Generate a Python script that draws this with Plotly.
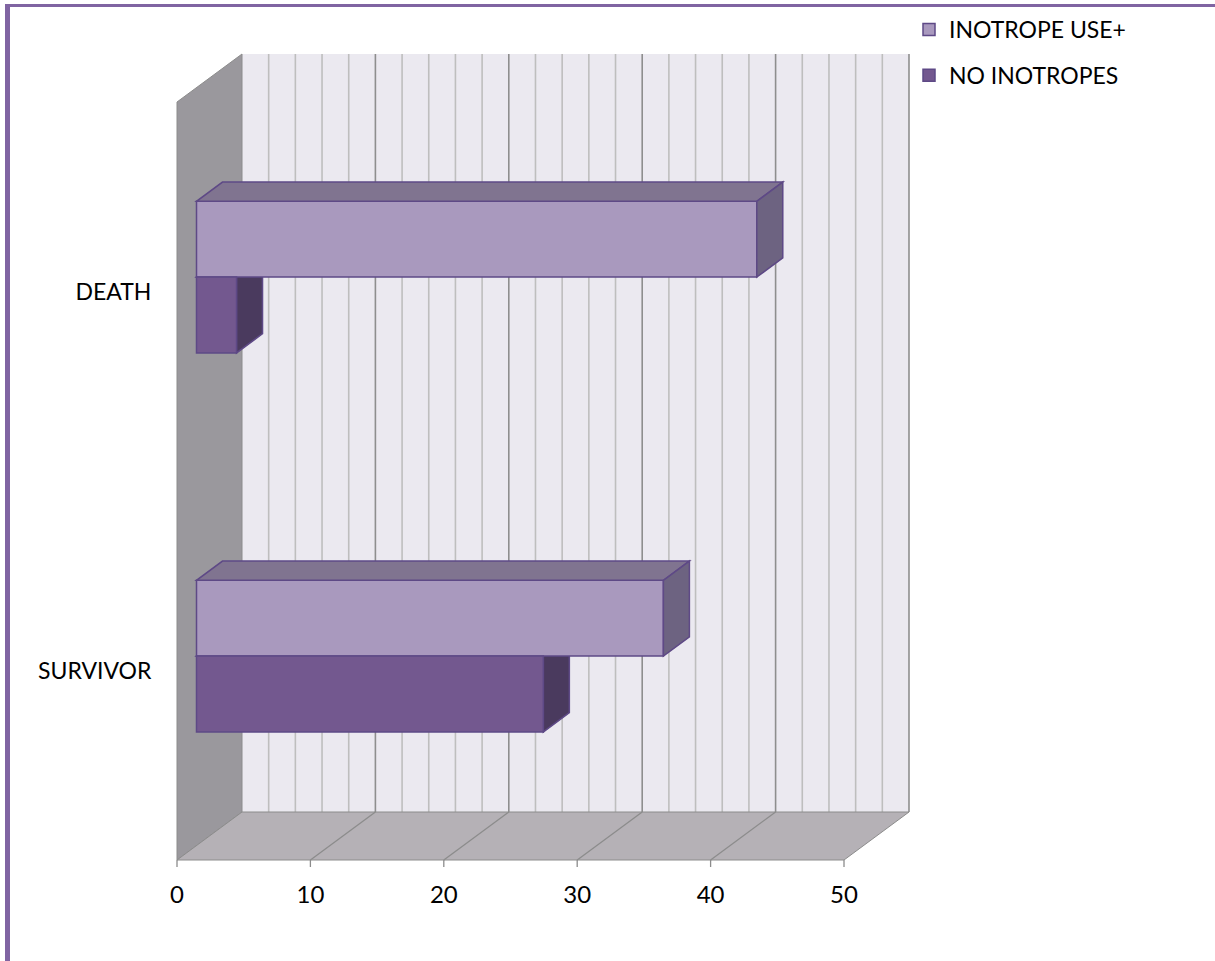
import plotly.graph_objects as go

# ---------------- data ----------------
categories = ["DEATH", "SURVIVOR"]
series_names = ["INOTROPE USE+", "NO INOTROPES"]
inotrope_use = [42, 35]
no_inotropes = [3, 26]
x_ticks = [0, 10, 20, 30, 40, 50]
x_axis_max = 50
minor_step = 2

# ---------------- styling / geometry ----------------
W, H = 1215, 961
PX_PER_UNIT = 13.34      # horizontal pixels per value unit
PX_PER_CAT = 379         # vertical pixels per category band
ML, MR, MT, MB = 167, 290, 44, 90
ORIGIN_PX = (177, 860)   # pixel of value 0 / floor front
PLOT_W = W - ML - MR
PLOT_H = H - MT - MB

x0 = -(ORIGIN_PX[0] - ML) / PX_PER_UNIT
x1 = x0 + PLOT_W / PX_PER_UNIT
y_bottom_px = H - MB
y0 = -(y_bottom_px - ORIGIN_PX[1]) / PX_PER_CAT
y1 = y0 + PLOT_H / PX_PER_CAT

DEPTH_DX = 65 / PX_PER_UNIT       # full depth, in value units
DEPTH_DY = 48 / PX_PER_CAT        # full depth, in category units
GAP_WIDTH = 1.5
GAP_DEPTH = 1.5
bar_w = 1.0 / (1 + GAP_WIDTH) / len(series_names)
bar_depth = 1.0 / (1 + GAP_DEPTH)
f_front = (1 - bar_depth) / 2
f_back = f_front + bar_depth

n_cat = len(categories)
cat_centers = [n_cat - i - 0.5 for i in range(n_cat)]

FRONT_COLORS = ["#A999BE", "#73588F"]
TOP_COLORS = ["#807490", "#5B4A72"]
SIDE_COLORS = ["#6D6381", "#4A3A5E"]
EDGE_COLOR = "#5E4986"
WALL_BACK = "#EBE9F0"
WALL_LEFT = "#9A989D"
FLOOR = "#B5B1B6"
GRID_MINOR = "#BEBEBE"
GRID_MAJOR = "#8E8E8E"
EDGE_GRAY = "#8C8C8C"
FONT = "Lato"


def proj(v, c, f):
    return v + f * DEPTH_DX, c + f * DEPTH_DY


def poly(points):
    pts = [proj(*p) for p in points]
    return "M " + " L ".join(f"{x:.5f},{y:.5f}" for x, y in pts) + " Z"


shapes = []


def add_poly(points, fill, line_color=None, line_width=0, layer="below"):
    shapes.append(dict(
        type="path", xref="x", yref="y", path=poly(points),
        fillcolor=fill, layer=layer,
        line=dict(color=line_color or fill, width=line_width),
    ))


def add_line(p, q, color, width, layer="below"):
    (xa, ya), (xb, yb) = proj(*p), proj(*q)
    shapes.append(dict(type="line", xref="x", yref="y", x0=xa, y0=ya, x1=xb, y1=yb,
                       line=dict(color=color, width=width), layer=layer))


top_c = float(n_cat)
# back wall
add_poly([(0, 0, 1), (x_axis_max, 0, 1), (x_axis_max, top_c, 1), (0, top_c, 1)], WALL_BACK)
# back wall gridlines
v = minor_step
while v < x_axis_max:
    if v not in x_ticks:
        add_line((v, 0, 1), (v, top_c, 1), GRID_MINOR, 1.6)
    v += minor_step
for t in x_ticks[1:]:
    add_line((t, 0, 1), (t, top_c, 1), GRID_MAJOR, 1.6)
# left wall
add_poly([(0, 0, 0), (0, 0, 1), (0, top_c, 1), (0, top_c, 0)], WALL_LEFT, EDGE_GRAY, 1)
# floor
add_poly([(0, 0, 0), (x_axis_max, 0, 0), (x_axis_max, 0, 1), (0, 0, 1)], FLOOR, EDGE_GRAY, 1)
for t in x_ticks[1:-1]:
    add_line((t, 0, 0), (t, 0, 1), EDGE_GRAY, 1.3)
# tick marks under the floor front edge
tick_len = 7 / PX_PER_CAT
for t in x_ticks:
    shapes.append(dict(type="line", xref="x", yref="y", x0=t, x1=t, y0=0, y1=-tick_len,
                       line=dict(color=EDGE_GRAY, width=1.3), layer="below"))

series_values = [inotrope_use, no_inotropes]
fig = go.Figure()

for s, (name, vals) in enumerate(zip(series_names, series_values)):
    offset = bar_w / 2 if s == 0 else -bar_w / 2
    centers = [c + offset for c in cat_centers]
    # 3D faces (top + right side)
    layer = "above" if s == 0 else "below"
    for c, val in zip(centers, vals):
        ct, cb = c + bar_w / 2, c - bar_w / 2
        add_poly([(0, ct, f_front), (val, ct, f_front), (val, ct, f_back), (0, ct, f_back)],
                 TOP_COLORS[s], EDGE_COLOR, 1.5, layer)
        add_poly([(val, ct, f_front), (val, cb, f_front), (val, cb, f_back), (val, ct, f_back)],
                 SIDE_COLORS[s], EDGE_COLOR, 1.5, layer)
    # front face as real bars
    fig.add_trace(go.Bar(
        name=name, orientation="h",
        x=vals, y=[c + f_front * DEPTH_DY for c in centers],
        base=f_front * DEPTH_DX, width=bar_w,
        marker=dict(color=FRONT_COLORS[s], line=dict(color=EDGE_COLOR, width=1.5)),
        legendgroup=name, customdata=categories,
        hovertemplate="%{customdata}: %{x}<extra>" + name + "</extra>",
    ))

# purple frame (left + top)
shapes.append(dict(type="line", xref="paper", yref="paper",
                   x0=(7.5 - ML) / PLOT_W, x1=(7.5 - ML) / PLOT_W,
                   y0=1 + (MT - 4) / PLOT_H, y1=-(MB) / PLOT_H,
                   line=dict(color="#8064A2", width=5), layer="above"))
shapes.append(dict(type="line", xref="paper", yref="paper",
                   x0=(5 - ML) / PLOT_W, x1=(W - ML) / PLOT_W,
                   y0=1 + (MT - 5.5) / PLOT_H, y1=1 + (MT - 5.5) / PLOT_H,
                   line=dict(color="#8064A2", width=3), layer="above"))

fig.update_layout(
    width=W, height=H,
    margin=dict(l=ML, r=MR, t=MT, b=MB, pad=0, autoexpand=False),
    paper_bgcolor="white", plot_bgcolor="rgba(0,0,0,0)",
    barmode="overlay",
    shapes=shapes,
    font=dict(family=FONT, size=23, color="#000000"),
    showlegend=True,
    legend=dict(
        x=(909 - ML) / PLOT_W, y=1 + (MT - 8) / PLOT_H,
        xanchor="left", yanchor="top",
        bgcolor="rgba(0,0,0,0)", tracegroupgap=13,
        font=dict(family=FONT, size=23, color="#000000"),
        traceorder="grouped",
    ),
    xaxis=dict(
        range=[x0, x1], tickvals=x_ticks, ticktext=[str(t) for t in x_ticks],
        showgrid=False, zeroline=False, showline=False,
        ticks="outside", ticklen=2, tickcolor="rgba(0,0,0,0)",
        tickfont=dict(family=FONT, size=24, color="#000000"), fixedrange=True,
    ),
    yaxis=dict(
        range=[y0, y1], tickvals=cat_centers, ticktext=categories,
        showgrid=False, zeroline=False, showline=False,
        ticks="outside", ticklen=10, tickcolor="rgba(0,0,0,0)",
        tickfont=dict(family=FONT, size=23, color="#000000"), fixedrange=True,
    ),
)

fig.write_html("out.html")
